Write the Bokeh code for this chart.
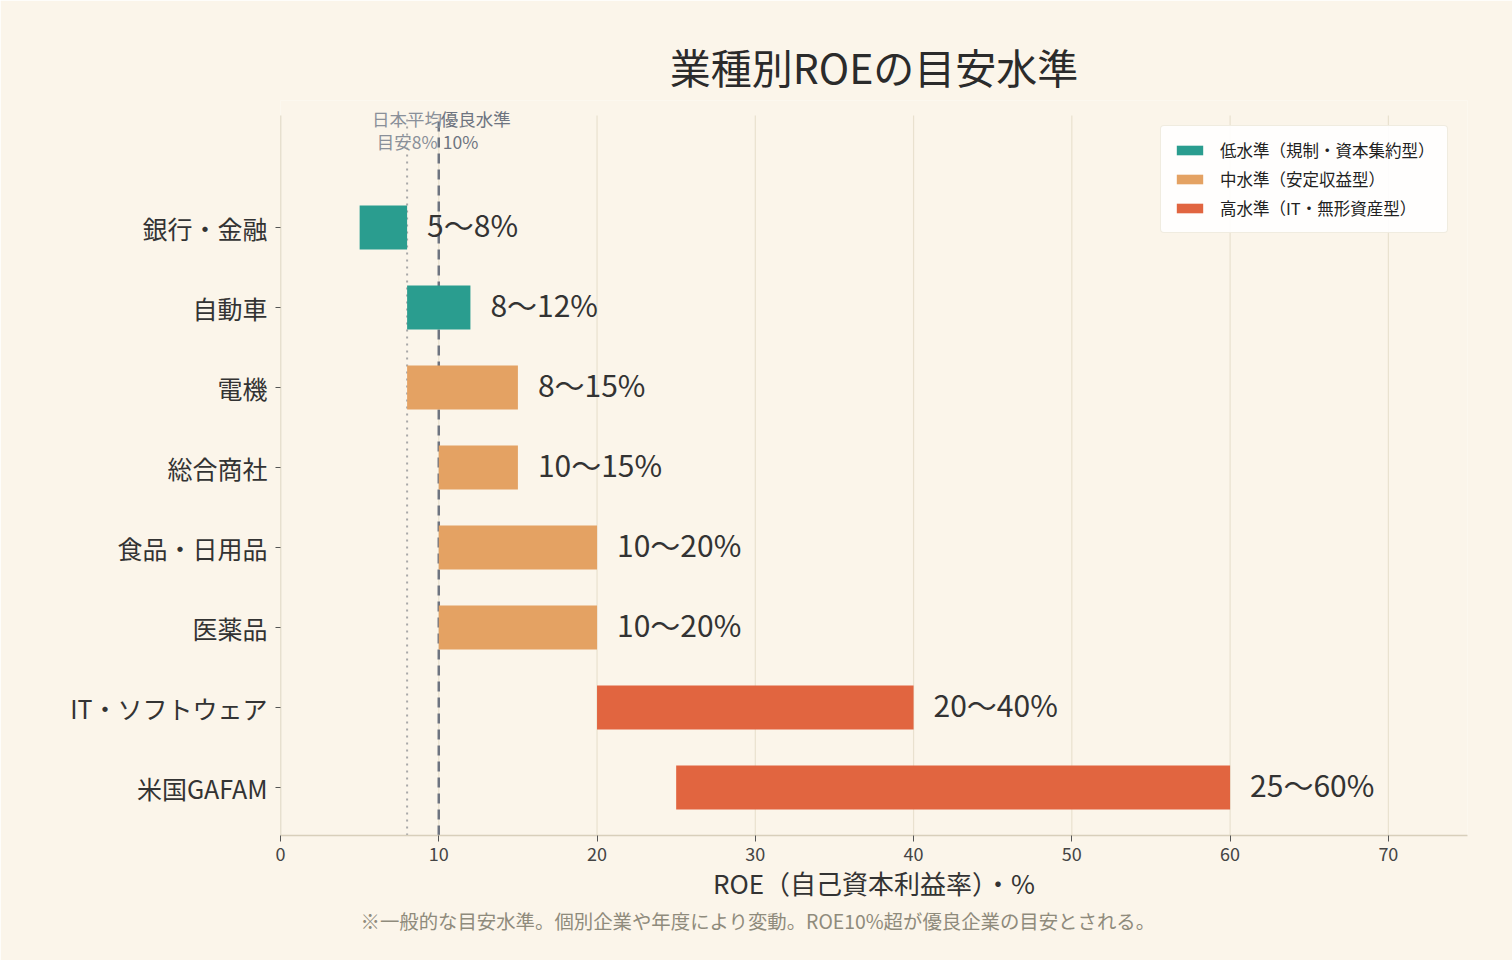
from bokeh.plotting import figure
from bokeh.models import (ColumnDataSource, Label, FixedTicker, Legend, LegendItem, Range1d, Title)
from bokeh.core.properties import value
from bokeh.embed import file_html
from bokeh.resources import INLINE

categories = ["銀行・金融", "自動車", "電機", "総合商社", "食品・日用品", "医薬品", "IT・ソフトウェア", "米国GAFAM"]
roe_low = [5, 8, 8, 10, 10, 10, 20, 25]
roe_high = [8, 12, 15, 15, 20, 20, 40, 60]
tiers = ["low", "low", "mid", "mid", "mid", "mid", "high", "high"]
tier_names = {"low": "低水準（規制・資本集約型）", "mid": "中水準（安定収益型）", "high": "高水準（IT・無形資産型）"}
tier_colors = {"low": "#2a9d8f", "mid": "#e4a263", "high": "#e16540"}
x_ticks = [0, 10, 20, 30, 40, 50, 60, 70]
japan_avg = 8
good_level = 10

FONT = "Noto Sans CJK JP"
BG = "#fbf5ea"
n = len(categories)
ypos = [n - 1 - i for i in range(n)]
y_lo, y_hi = -0.6, n + 0.4          # extent of the drawn frame lines
y_top = y_hi + 15 / 80              # extra headroom for the reference-line notes

p = figure(width=1512, height=960, output_backend="svg", toolbar_location=None,
           x_range=Range1d(0, 75), y_range=Range1d(y_lo, y_top),
           min_border_left=280, min_border_right=45, min_border_top=100, min_border_bottom=125)
p.background_fill_color = BG
p.border_fill_color = BG
p.outline_line_color = None

# vertical grid lines and left spine
p.segment(x0=x_ticks, y0=[y_lo] * len(x_ticks), x1=x_ticks, y1=[y_hi] * len(x_ticks),
          line_color="#e9e1cf", line_width=1.2)
p.segment(x0=[0], y0=[y_lo], x1=[0], y1=[y_hi], line_color="#dcd3bf", line_width=1.5)

# reference lines (behind bars)
p.segment(x0=[japan_avg], y0=[y_lo], x1=[japan_avg], y1=[y_hi], line_color="#a8a8a8",
          line_width=2, line_dash="2 5")
p.segment(x0=[good_level], y0=[y_lo], x1=[good_level], y1=[y_hi], line_color="#6e7480",
          line_width=2.5, line_dash="10 6")

renderers = {}
for t in ["low", "mid", "high"]:
    idx = [i for i in range(n) if tiers[i] == t]
    src = ColumnDataSource(dict(y=[ypos[i] for i in idx], left=[roe_low[i] for i in idx],
                                right=[roe_high[i] for i in idx]))
    renderers[t] = p.hbar(y="y", left="left", right="right", height=0.55, source=src,
                          fill_color=tier_colors[t], line_color=None)

lab_src = ColumnDataSource(dict(x=roe_high, y=ypos, t=[f"{a}〜{b}%" for a, b in zip(roe_low, roe_high)]))
p.text(x="x", y="y", text="t", source=lab_src, x_offset=20, y_offset=-4, text_baseline="middle",
       text_font=value(FONT), text_font_size="30px", text_color="#333333")

for txt, yy in [("日本平均", 8.36), ("目安8%", 8.075)]:
    p.add_layout(Label(x=japan_avg, y=yy, text=txt, text_align="center", text_baseline="middle",
                       text_font=FONT, text_font_size="17.5px", text_color="#8a9099"))
for txt, yy, off in [("優良水準", 8.36, 2), ("10%", 8.075, 4)]:
    p.add_layout(Label(x=good_level, y=yy, text=txt, text_align="left", text_baseline="middle",
                       x_offset=off, text_font=FONT, text_font_size="17.5px", text_color="#6e7480"))

# title and footnote
p.title = Title(text="業種別ROEの目安水準", align="center", text_font=FONT, text_font_size="41px",
                text_color="#2b2b2b", text_font_style="normal", standoff=10)
foot = Title(text="※一般的な目安水準。個別企業や年度により変動。ROE10%超が優良企業の目安とされる。",
             align="left", offset=80, text_font=FONT, text_font_size="19.4px", text_color="#8f8b7c",
             text_font_style="normal", standoff=0)
p.add_layout(foot, "below")

# axes
p.xaxis.ticker = FixedTicker(ticks=x_ticks)
p.xaxis.axis_label = "ROE（自己資本利益率）・%"
p.xaxis.axis_label_text_font = FONT
p.xaxis.axis_label_text_font_size = "26px"
p.xaxis.axis_label_text_font_style = "normal"
p.xaxis.axis_label_text_color = "#333333"
p.xaxis.axis_label_standoff = 0
p.xaxis.major_label_text_font = FONT
p.xaxis.major_label_text_font_size = "18px"
p.xaxis.major_label_text_color = "#444444"
p.xaxis.axis_line_color = "#d8cfbb"
p.xaxis.axis_line_width = 1.5
p.xaxis.major_tick_line_color = "#555555"
p.xaxis.major_tick_out = 6
p.xaxis.major_tick_in = 0
p.xaxis.minor_tick_line_color = None

p.yaxis.ticker = FixedTicker(ticks=ypos)
p.yaxis.major_label_overrides = {ypos[i]: categories[i] for i in range(n)}
p.yaxis.major_label_text_font = FONT
p.yaxis.major_label_text_font_size = "25px"
p.yaxis.major_label_text_color = "#333333"
p.yaxis.axis_line_color = None
p.yaxis.major_tick_line_color = "#555555"
p.yaxis.major_tick_out = 5
p.yaxis.major_tick_in = 0
p.yaxis.minor_tick_line_color = None
p.yaxis.major_label_standoff = 8

p.xgrid.grid_line_color = None
p.ygrid.grid_line_color = None

legend = Legend(items=[LegendItem(label=tier_names[t], renderers=[renderers[t]]) for t in ["low", "mid", "high"]],
                location=(880, 602))
legend.margin = 0
legend.padding = 12
legend.spacing = 5
legend.glyph_width = 33
legend.glyph_height = 12
legend.label_standoff = 14
legend.label_text_font = FONT
legend.label_text_font_size = "16.5px"
legend.label_text_color = "#222222"
legend.background_fill_color = "white"
legend.background_fill_alpha = 0.9
legend.border_line_color = "#e2dac4"
legend.border_line_width = 1.5
legend.border_radius = 4
p.add_layout(legend)

open("out.html", "w").write(file_html(p, INLINE))
